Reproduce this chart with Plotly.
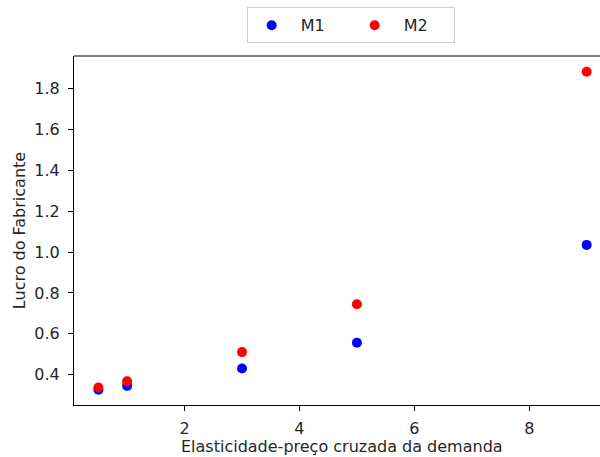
import plotly.graph_objects as go

elasticidade = [0.5, 1, 3, 5, 9]
m1 = [0.327, 0.346, 0.431, 0.557, 1.035]
m2 = [0.338, 0.368, 0.511, 0.745, 1.881]

font = dict(family="DejaVu Sans", size=16, color="#262626")

fig = go.Figure()
fig.add_trace(go.Scatter(x=elasticidade, y=m1, mode="markers", name="M1",
                         marker=dict(color="blue", size=10)))
fig.add_trace(go.Scatter(x=elasticidade, y=m2, mode="markers", name="M2",
                         marker=dict(color="red", size=10)))

fig.update_layout(
    width=600, height=457,
    margin=dict(l=74, r=0, t=56, b=52),
    paper_bgcolor="white", plot_bgcolor="white",
    font=font,
    showlegend=True,
    legend=dict(orientation="h", x=0.526, xanchor="center", y=0.984, yanchor="top",
                yref="container", bordercolor="#d0d0d0", borderwidth=1,
                itemwidth=48, entrywidth=45, indentation=-5, font=font),
    xaxis=dict(range=[0.075, 9.232], showgrid=False, zeroline=False,
               showline=True, linecolor="black", linewidth=1,
               ticks="outside", ticklen=5, tickcolor="black",
               tickvals=[2, 4, 6, 8], ticktext=["2", "4", "6", "8"],
               tickfont=font, ticklabelstandoff=4),
    yaxis=dict(range=[0.2525, 1.958], showgrid=False, zeroline=False,
               showline=True, linecolor="black", linewidth=1,
               ticks="outside", ticklen=5, tickcolor="black",
               tickvals=[0.4, 0.6, 0.8, 1.0, 1.2, 1.4, 1.6, 1.8],
               ticktext=["0.4", "0.6", "0.8", "1.0", "1.2", "1.4", "1.6", "1.8"],
               tickfont=font, ticklabelstandoff=5,
               title=dict(text="Lucro do Fabricante", standoff=4, font=font)),
    annotations=[dict(text="Elasticidade-preço cruzada da demanda", xref="paper",
                      yref="paper", x=0.5095, y=-0.118, xanchor="center",
                      yanchor="middle", showarrow=False, font=font)],
    shapes=[dict(type="line", xref="paper", yref="paper", x0=0, x1=1, y0=1, y1=1,
                 line=dict(color="black", width=1))],
)

fig.write_html("out.html")
